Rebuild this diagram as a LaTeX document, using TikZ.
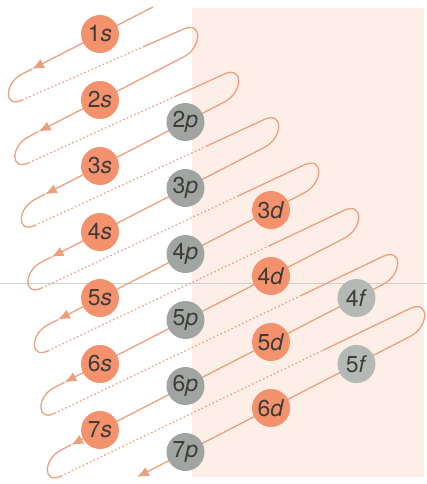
\documentclass[tikz,border=0pt]{standalone}
\usepackage{fontspec}
\setmainfont{TeX Gyre Heros}
\usetikzlibrary{arrows.meta}
\definecolor{orbS}{RGB}{243,146,108}
\definecolor{orbP}{RGB}{160,165,162}
\definecolor{orbF}{RGB}{180,185,182}
\definecolor{wirec}{RGB}{236,160,125}
\definecolor{paperc}{RGB}{253,238,232}
\definecolor{labelc}{RGB}{62,60,58}
\begin{document}
\begin{tikzpicture}[x=0.5pt, y=0.5pt, font=\fontsize{11.5}{13}\selectfont,
  wire/.style={draw=wirec, line width=0.65pt},
  back/.style={draw=wirec, line width=0.6pt, dash pattern=on 0.8pt off 1.2pt},
  arrowend/.style={-{Latex[length=6pt,width=5pt]}},
  orb/.style={circle, inner sep=0pt, minimum size=19pt, text=labelc},
  sorb/.style={orb, fill=orbS},
  porb/.style={orb, fill=orbP},
  forb/.style={orb, fill=orbF}]
  \useasboundingbox (0,0) rectangle (427,-484);
  \fill[paperc] (192,-8) rectangle (424,-477);
  \draw[black!18, line width=0.3pt] (0,-283) -- (427,-283);
  % diagonal k (n+l=k): y = 34+66(k-1) - 0.5146(x-100)
  % r = right end, t = arrow tip, l = left loop top, b = left loop bottom, m = end of dotted part, c = right loop top
  \coordinate (a0) at (153,-7);
  \coordinate (t1) at (32,-69);    \coordinate (l1) at (22,-74.1);   \coordinate (b1) at (22,-100.1);  \coordinate (m1) at (142.8,-47);
  \coordinate (c2) at (183,-29.3); \coordinate (r2) at (183,-57.3);
  \coordinate (t2) at (38.5,-131.6); \coordinate (l2) at (28.5,-136.8); \coordinate (b2) at (28.5,-162.8); \coordinate (m2) at (175.1,-96.4);
  \coordinate (c3) at (224,-74.2); \coordinate (r3) at (224,-102.2);
  \coordinate (t3) at (45,-194.3); \coordinate (l3) at (35,-199.4); \coordinate (b3) at (35,-225.4); \coordinate (m3) at (206.8,-146);
  \coordinate (c4) at (264,-119.6); \coordinate (r4) at (264,-147.6);
  \coordinate (t4) at (51.5,-257); \coordinate (l4) at (41.5,-262.1); \coordinate (b4) at (41.5,-288.1); \coordinate (m4) at (238.4,-195.8);
  \coordinate (c5) at (304,-165); \coordinate (r5) at (304,-193);
  \coordinate (t5) at (58,-319.6); \coordinate (l5) at (48,-324.8); \coordinate (b5) at (48,-350.8); \coordinate (m5) at (270,-245.5);
  \coordinate (c6) at (344,-210.4); \coordinate (r6) at (344,-238.4);
  \coordinate (t6) at (64.5,-382.3); \coordinate (l6) at (54.5,-387.4); \coordinate (b6) at (54.5,-413.4); \coordinate (m6) at (300.9,-295.6);
  \coordinate (c7) at (383,-256.4); \coordinate (r7) at (383,-284.4);
  \coordinate (t7) at (71,-444.9); \coordinate (l7) at (61,-450.1); \coordinate (b7) at (61,-476.1); \coordinate (m7) at (322.8,-350.4);
  \coordinate (c8) at (410,-308.5); \coordinate (r8) at (410,-336.5);
  \coordinate (t8) at (137,-477);
  % 앞면: 실선, 뒷면: 점선
  \draw[wire,arrowend] (a0) -- (t1); \draw[wire] (t1) -- (l1) to[out=207,in=205,looseness=2] (b1);
  \draw[back] (b1) -- (m1); \draw[wire] (m1) -- (c2) to[out=25,in=27,looseness=2] (r2);
  \draw[wire,arrowend] (r2) -- (t2); \draw[wire] (t2) -- (l2) to[out=207,in=205,looseness=2] (b2);
  \draw[back] (b2) -- (m2); \draw[wire] (m2) -- (c3) to[out=25,in=27,looseness=2] (r3);
  \draw[wire,arrowend] (r3) -- (t3); \draw[wire] (t3) -- (l3) to[out=207,in=205,looseness=2] (b3);
  \draw[back] (b3) -- (m3); \draw[wire] (m3) -- (c4) to[out=25,in=27,looseness=2] (r4);
  \draw[wire,arrowend] (r4) -- (t4); \draw[wire] (t4) -- (l4) to[out=207,in=205,looseness=2] (b4);
  \draw[back] (b4) -- (m4); \draw[wire] (m4) -- (c5) to[out=25,in=27,looseness=2] (r5);
  \draw[wire,arrowend] (r5) -- (t5); \draw[wire] (t5) -- (l5) to[out=207,in=205,looseness=2] (b5);
  \draw[back] (b5) -- (m5); \draw[wire] (m5) -- (c6) to[out=25,in=27,looseness=2] (r6);
  \draw[wire,arrowend] (r6) -- (t6); \draw[wire] (t6) -- (l6) to[out=207,in=205,looseness=2] (b6);
  \draw[back] (b6) -- (m6); \draw[wire] (m6) -- (c7) to[out=25,in=27,looseness=2] (r7);
  \draw[wire,arrowend] (r7) -- (t7); \draw[wire] (t7) -- (l7) to[out=207,in=205,looseness=2] (b7);
  \draw[back] (b7) -- (m7); \draw[wire] (m7) -- (c8) to[out=25,in=27,looseness=2] (r8);
  \draw[wire,arrowend] (r8) -- (t8);
  % 궤도: x=100+85.5l, y=34+66(n-1)+22l
  \node[sorb] (o1s) at (100,-34) {1\textit{s}};
  \node[sorb] (o2s) at (100,-100) {2\textit{s}};
  \node[sorb] (o3s) at (100,-166) {3\textit{s}};
  \node[sorb] (o4s) at (100,-232) {4\textit{s}};
  \node[sorb] (o5s) at (100,-298) {5\textit{s}};
  \node[sorb] (o6s) at (100,-364) {6\textit{s}};
  \node[sorb] (o7s) at (100,-430) {7\textit{s}};
  \node[porb] (o2p) at (185.5,-122) {2\textit{p}};
  \node[porb] (o3p) at (185.5,-188) {3\textit{p}};
  \node[porb] (o4p) at (185.5,-254) {4\textit{p}};
  \node[porb] (o5p) at (185.5,-320) {5\textit{p}};
  \node[porb] (o6p) at (185.5,-386) {6\textit{p}};
  \node[porb] (o7p) at (185.5,-452) {7\textit{p}};
  \node[sorb] (o3d) at (271,-210) {3\textit{d}};
  \node[sorb] (o4d) at (271,-276) {4\textit{d}};
  \node[sorb] (o5d) at (271,-342) {5\textit{d}};
  \node[sorb] (o6d) at (271,-408) {6\textit{d}};
  \node[forb] (o4f) at (356.5,-298) {4\textit{f}};
  \node[forb] (o5f) at (356.5,-364) {5\textit{f}};
\end{tikzpicture}
\end{document}
